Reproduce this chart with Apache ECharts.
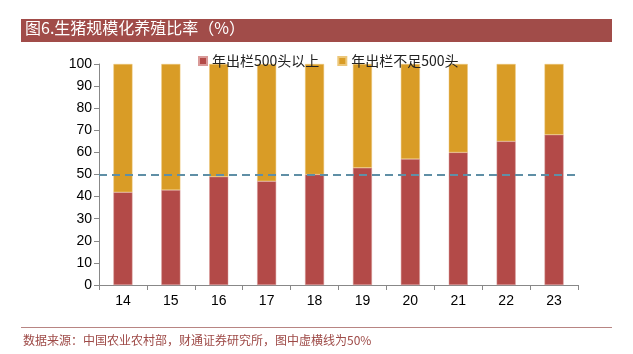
<!DOCTYPE html>
<html>
<head>
<meta charset="utf-8">
<script src="https://cdn.jsdelivr.net/npm/echarts@6/dist/echarts.min.js"></script>
<style>
  html, body { margin: 0; padding: 0; background: #fff; }
  #chart { width: 633px; height: 354px; }
</style>
</head>
<body>
<div id="chart"></div>
<script>
// 年份（两位数）
const years = ['14', '15', '16', '17', '18', '19', '20', '21', '22', '23'];
// 年出栏500头以上占比（%）
const largeShare = [42, 43, 49, 47, 50, 53, 57, 60, 65, 68];
// 年出栏不足500头占比（%）
const smallShare = [58, 57, 51, 53, 50, 47, 43, 40, 35, 32];
const refLine = 50;

const chart = echarts.init(document.getElementById('chart'));
const cjk = '"Noto Sans CJK SC", sans-serif';
const num = '"Liberation Sans", Arial, sans-serif';

chart.setOption({
    animation: false,
    backgroundColor: '#fff',
    graphic: [
        { type: 'rect', shape: { x: 21, y: 19, width: 591, height: 23 }, style: { fill: '#a14c49' } },
        { type: 'text', left: 25, top: 20, style: { text: '图6.生猪规模化养殖比率（%）', fill: '#fff', font: '16px ' + cjk } },
        { type: 'rect', shape: { x: 21, y: 327, width: 591, height: 1 }, style: { fill: '#b88583' } },
        { type: 'text', left: 23, top: 334, style: { text: '数据来源：中国农业农村部，财通证券研究所，图中虚横线为50%', fill: '#9e4a47', font: '12px ' + cjk } }
    ],
    legend: {
        top: 49,
        left: 193,
        icon: 'rect',
        itemWidth: 8,
        itemHeight: 8,
        itemGap: 18,
        textStyle: { fontFamily: cjk, fontSize: 14, color: '#222' },
        data: ['年出栏500头以上', '年出栏不足500头']
    },
    grid: { left: 99, right: 55, top: 64, bottom: 69 },
    xAxis: {
        type: 'category',
        data: years,
        axisLine: { lineStyle: { color: '#888' } },
        axisTick: { show: true, length: 5, lineStyle: { color: '#888' } },
        axisLabel: { color: '#000', fontFamily: num, fontSize: 14, margin: 9 }
    },
    yAxis: {
        type: 'value',
        min: 0, max: 100, interval: 10,
        axisLine: { show: true, lineStyle: { color: '#888' } },
        axisTick: { show: true, length: 5, lineStyle: { color: '#888' } },
        splitLine: { show: false },
        axisLabel: { color: '#000', fontFamily: num, fontSize: 14, margin: 7 }
    },
    series: [
        {
            name: '年出栏500头以上',
            type: 'bar',
            stack: 'total',
            barWidth: 19,
            data: largeShare,
            itemStyle: { color: '#b34a48', borderColor: '#d99a98', borderWidth: 0.5 },
            markLine: {
                symbol: 'none',
                silent: true,
                label: { show: false },
                lineStyle: { color: '#5f8fa6', type: [8, 5], width: 2 },
                data: [{ yAxis: refLine }]
            }
        },
        {
            name: '年出栏不足500头',
            type: 'bar',
            stack: 'total',
            barWidth: 19,
            data: smallShare,
            itemStyle: { color: '#d99c26', borderColor: '#ecc77a', borderWidth: 0.5 }
        }
    ]
});
</script>
</body>
</html>
